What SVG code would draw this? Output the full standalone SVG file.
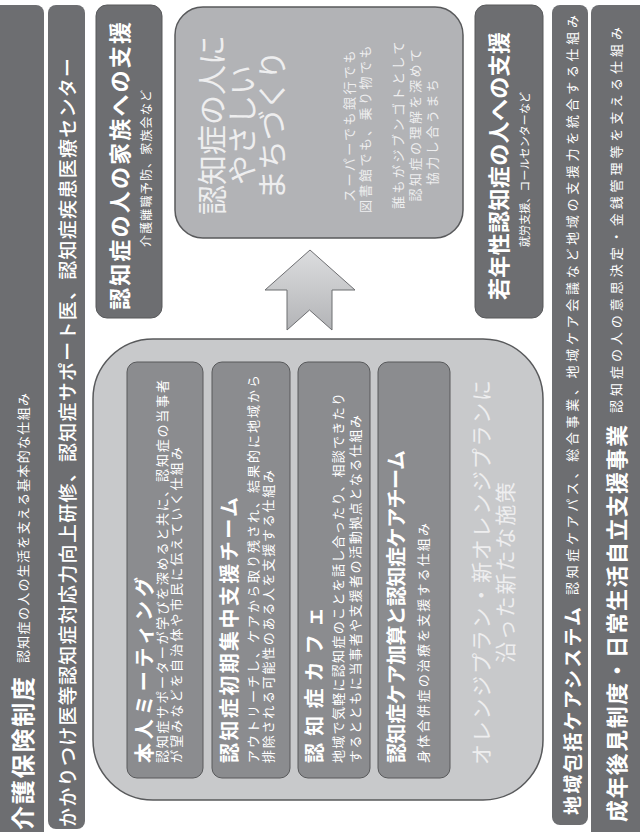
<svg xmlns="http://www.w3.org/2000/svg" width="640" height="832" viewBox="0 0 640 832">
<defs>
<style>
text{font-family:"Noto Sans CJK JP","Noto Sans",sans-serif;fill:#ffffff;dominant-baseline:central}
.bar{fill:#6d6e71}
.dark{fill:#6d6e71;stroke:#58595b;stroke-width:1}
.pale{fill:#b2b3b6;stroke:#58595b;stroke-width:1.5}
.big{fill:#c8c9cb;stroke:#58595b;stroke-width:1.5}
.inner{fill:#8b8c8f;stroke:#58595b;stroke-width:1}
.b{font-weight:bold}
.lt{fill:#eeeeef}
</style>
<linearGradient id="ag" x1="0" y1="0" x2="0" y2="1">
<stop offset="0" stop-color="#dcdddf"/>
<stop offset="1" stop-color="#b3b4b7"/>
</linearGradient>
</defs>

<g id="kaigo">
<rect class="bar" x="-10" y="5" width="54" height="840" rx="8"/>
<text class="b" font-size="24" transform="translate(21,830) rotate(-90)" textLength="153" lengthAdjust="spacing">介護保険制度</text>
<text font-size="13" transform="translate(22,663) rotate(-90)" textLength="270" lengthAdjust="spacing">認知症の人の生活を支える基本的な仕組み</text>
</g>

<g id="kakaritsuke">
<rect class="bar" x="48" y="5" width="37" height="824" rx="8"/>
<text font-size="19" font-weight="500" transform="translate(66,827) rotate(-90)" textLength="769" lengthAdjust="spacing">かかりつけ医等認知症対応力向上研修、認知症サポート医、認知症疾患医療センター</text>
</g>

<g id="kazoku">
<rect class="dark" x="96" y="5" width="66" height="313" rx="11"/>
<text class="b" font-size="22" transform="translate(118,310) rotate(-90)" textLength="288" lengthAdjust="spacing">認知症の人の家族への支援</text>
<text font-size="12" transform="translate(145,247) rotate(-90)" textLength="157" lengthAdjust="spacing">介護離職予防、家族会など</text>
</g>

<g id="machizukuri">
<rect class="pale" x="175" y="7" width="288" height="231" rx="28"/>
<text class="lt" font-size="30" text-anchor="middle" transform="translate(210,125) rotate(-90)">認知症の人に</text>
<text class="lt" font-size="30" text-anchor="middle" transform="translate(240,125) rotate(-90)">やさしい</text>
<text class="lt" font-size="30" text-anchor="middle" transform="translate(270,125) rotate(-90)">まちづくり</text>
<text class="lt" font-size="13" letter-spacing="2.5" text-anchor="middle" transform="translate(348,125) rotate(-90)">スーパーでも銀行でも</text>
<text class="lt" font-size="13" letter-spacing="2.5" text-anchor="middle" transform="translate(364,128) rotate(-90)">図書館でも、乗り物でも</text>
<text class="lt" font-size="13" letter-spacing="2.5" text-anchor="middle" transform="translate(397,124) rotate(-90)">誰もがジブンゴトとして</text>
<text class="lt" font-size="13" letter-spacing="2.5" text-anchor="middle" transform="translate(414,124) rotate(-90)">認知症の理解を深めて</text>
<text class="lt" font-size="13" letter-spacing="2.5" text-anchor="middle" transform="translate(431,131) rotate(-90)">協力し合うまち</text>
</g>

<g id="jakunen">
<rect class="dark" x="475" y="5" width="68" height="313" rx="11"/>
<text class="b" font-size="22" transform="translate(497,300) rotate(-90)" textLength="268" lengthAdjust="spacing">若年性認知症の人への支援</text>
<text font-size="11" transform="translate(524,247) rotate(-90)" textLength="155" lengthAdjust="spacing">就労支援、コールセンターなど</text>
</g>

<g id="orange">
<rect class="big" x="93" y="339" width="450" height="461" rx="60"/>
<text class="lt" font-size="21" transform="translate(480,765) rotate(-90)" textLength="385" lengthAdjust="spacing">オレンジプラン・新オレンジプランに</text>
<text class="lt" font-size="21" transform="translate(504,663) rotate(-90)" textLength="181" lengthAdjust="spacing">沿った新たな施策</text>
</g>

<g id="honnin">
<rect class="inner" x="127" y="362" width="76" height="416" rx="10"/>
<text class="b" font-size="20" transform="translate(143,763) rotate(-90)" textLength="186" lengthAdjust="spacing">本人ミーティング</text>
<text font-size="13" transform="translate(161,763) rotate(-90)" textLength="383" lengthAdjust="spacing">認知症サポーターが学びを深めると共に、認知症の当事者</text>
<text font-size="13" transform="translate(175,763) rotate(-90)" textLength="316" lengthAdjust="spacing">が望みなどを自治体や市民に伝えていく仕組み</text>
</g>

<g id="shoki">
<rect class="inner" x="212" y="362" width="78" height="416" rx="10"/>
<text class="b" font-size="20" transform="translate(228,763) rotate(-90)" textLength="266" lengthAdjust="spacing">認知症初期集中支援チーム</text>
<text font-size="13" transform="translate(252,763) rotate(-90)" textLength="388" lengthAdjust="spacing">アウトリーチし、ケアから取り残され、結果的に地域から</text>
<text font-size="13" transform="translate(267,763) rotate(-90)" textLength="293" lengthAdjust="spacing">排除される可能性のある人を支援する仕組み</text>
</g>

<g id="cafe">
<rect class="inner" x="298" y="362" width="72" height="416" rx="10"/>
<text class="b" font-size="20" transform="translate(313,763) rotate(-90)" textLength="156" lengthAdjust="spacing">認知症カフェ</text>
<text font-size="13" transform="translate(337,763) rotate(-90)" textLength="370" lengthAdjust="spacing">地域で気軽に認知症のことを話し合ったり、相談できたり</text>
<text font-size="13" transform="translate(354,763) rotate(-90)" textLength="348" lengthAdjust="spacing">するとともに当事者や支援者の活動拠点となる仕組み</text>
</g>

<g id="kasan">
<rect class="inner" x="378" y="362" width="72" height="416" rx="10"/>
<text class="b" font-size="20" transform="translate(395,763) rotate(-90)" textLength="313" lengthAdjust="spacing">認知症ケア加算と認知症ケアチーム</text>
<text font-size="13" transform="translate(422,763) rotate(-90)" textLength="240" lengthAdjust="spacing">身体合併症の治療を支援する仕組み</text>
</g>

<g id="chiiki">
<rect class="bar" x="552" y="5" width="36" height="820" rx="8"/>
<text class="b" font-size="19" transform="translate(571,815) rotate(-90)" textLength="208" lengthAdjust="spacing">地域包括ケアシステム</text>
<text font-size="13" transform="translate(571,595) rotate(-90)" textLength="580" lengthAdjust="spacing">認知症ケアパス、総合事業、地域ケア会議など地域の支援力を統合する仕組み</text>
</g>

<g id="seinen">
<rect class="bar" x="591" y="5" width="60" height="840" rx="8"/>
<text class="b" font-size="22" transform="translate(615,822) rotate(-90)" textLength="397" lengthAdjust="spacing">成年後見制度・日常生活自立支援事業</text>
<text font-size="13" transform="translate(615,413) rotate(-90)" textLength="386" lengthAdjust="spacing">認知症の人の意思決定・金銭管理等を支える仕組み</text>
</g>

<g id="connectors">
<path d="M310,250 L355,290 L332,290 L332,330 L309.5,310 L287,330 L287,290 L265,290 Z" fill="url(#ag)" stroke="#6d6e71" stroke-width="1"/>
</g>
</svg>
